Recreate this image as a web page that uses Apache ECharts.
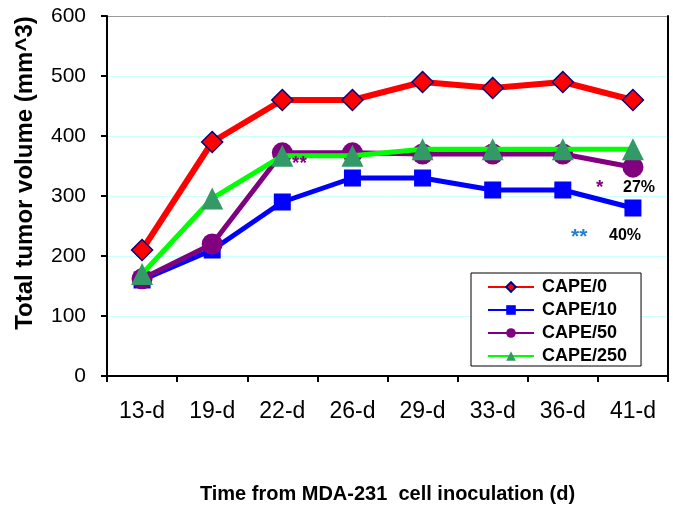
<!DOCTYPE html>
<html>
<head>
<meta charset="utf-8">
<script src="https://cdn.jsdelivr.net/npm/echarts@6/dist/echarts.min.js"></script>
<style>
  html, body { margin: 0; padding: 0; background: #fff; }
  #main { width: 673px; height: 516px; }
</style>
</head>
<body>
<div id="main"></div>
<script>
// data
var days = ['13-d', '19-d', '22-d', '26-d', '29-d', '33-d', '36-d', '41-d'];
var cape0 = [210, 390, 460, 460, 490, 480, 490, 460];
var cape10 = [160, 210, 290, 330, 330, 310, 310, 280];
var cape50 = [162, 220, 372, 372, 370, 370, 370, 348];
var cape250 = [170, 296, 367, 367, 378, 378, 378, 378];

var chart = echarts.init(document.getElementById('main'));

var font = 'Liberation Sans, Arial, sans-serif';

function line(name, data, color, symbol, size, extra) {
    return Object.assign({
        name: name,
        type: 'line',
        data: data,
        symbol: symbol,
        symbolSize: size,
        showSymbol: true,
        animation: false,
        lineStyle: { color: color, width: 5 },
        itemStyle: { color: color }
    }, extra || {});
}

chart.setOption({
    backgroundColor: '#fff',
    textStyle: { fontFamily: font },
    grid: { left: 107, right: 5, top: 16, bottom: 140 },
    legend: {
        orient: 'vertical',
        left: 471,
        top: 273,
        width: 174,
        padding: [5, 14, 1, 16],
        itemGap: 5,
        itemWidth: 46,
        itemHeight: 12,
        borderColor: '#000',
        borderWidth: 1,
        backgroundColor: '#fff',
        lineStyle: { width: 2 },
        textStyle: { fontFamily: font, fontSize: 18, fontWeight: 'bold', color: '#000', padding: [0, 0, 0, 3] },
        data: ['CAPE/0', 'CAPE/10', 'CAPE/50', 'CAPE/250']
    },
    xAxis: {
        type: 'category',
        data: days,
        boundaryGap: true,
        name: 'Time from MDA-231  cell inoculation (d)',
        nameLocation: 'middle',
        nameGap: 108,
        nameTextStyle: { fontFamily: font, fontSize: 20, fontWeight: 'bold', color: '#000', padding: [0, 0, 0, 0] },
        axisLine: { lineStyle: { color: '#000', width: 2 } },
        axisTick: { show: true, length: 6, lineStyle: { color: '#000', width: 2 } },
        axisLabel: { fontFamily: font, fontSize: 23, color: '#000', margin: 24 }
    },
    yAxis: [{
        type: 'value',
        min: 0,
        max: 600,
        interval: 100,
        name: 'Total tumor volume (mm^3)',
        nameLocation: 'middle',
        nameGap: 70,
        nameTextStyle: { fontFamily: font, fontSize: 24, fontWeight: 'bold', color: '#000', padding: [0, 0, 0, 46] },
        axisLine: { show: true, lineStyle: { color: '#000', width: 2 } },
        axisTick: { show: true, length: 6, lineStyle: { color: '#000', width: 2 } },
        axisLabel: { fontFamily: font, fontSize: 21, color: '#000', margin: 21 },
        splitLine: {
            show: true,
            lineStyle: { color: ['#ccffff', '#ccffff', '#ccffff', '#ccffff', '#ccffff', '#ccffff', '#999999'], width: 1 }
        }
    }, {
        type: 'value',
        min: 0,
        max: 600,
        interval: 100,
        position: 'right',
        axisLine: { show: true, lineStyle: { color: '#000', width: 2 } },
        axisTick: { show: false },
        axisLabel: { show: false },
        splitLine: { show: false }
    }],
    series: [
        line('CAPE/0', cape0, '#ff0000', 'diamond', 21, {
            lineStyle: { color: '#ff0000', width: 6 },
            itemStyle: { color: '#ff0000', borderColor: '#000080', borderWidth: 1.5 },
            z: 5
        }),
        line('CAPE/10', cape10, '#0000ff', 'rect', 17, { z: 2 }),
        line('CAPE/50', cape50, '#800080', 'circle', 21, { z: 3 }),
        line('CAPE/250', cape250, '#00ff00', 'triangle', 22, {
            itemStyle: { color: '#339966' },
            z: 4
        })
    ],
    graphic: [
        { type: 'text', z: 100, left: 292, top: 154, style: { text: '**', font: 'bold 19px ' + font, fill: '#800080' } },
        { type: 'text', z: 100, left: 596, top: 178, style: { text: '*', font: 'bold 19px ' + font, fill: '#800080' } },
        { type: 'text', z: 100, left: 623, top: 180, style: { text: '27%', font: 'bold 16px ' + font, fill: '#000' } },
        { type: 'text', z: 100, left: 571, top: 227, style: { text: '**', font: 'bold 21px ' + font, fill: '#1f7fd0' } },
        { type: 'text', z: 100, left: 609, top: 228, style: { text: '40%', font: 'bold 16px ' + font, fill: '#000' } }
    ]
});
</script>
</body>
</html>
